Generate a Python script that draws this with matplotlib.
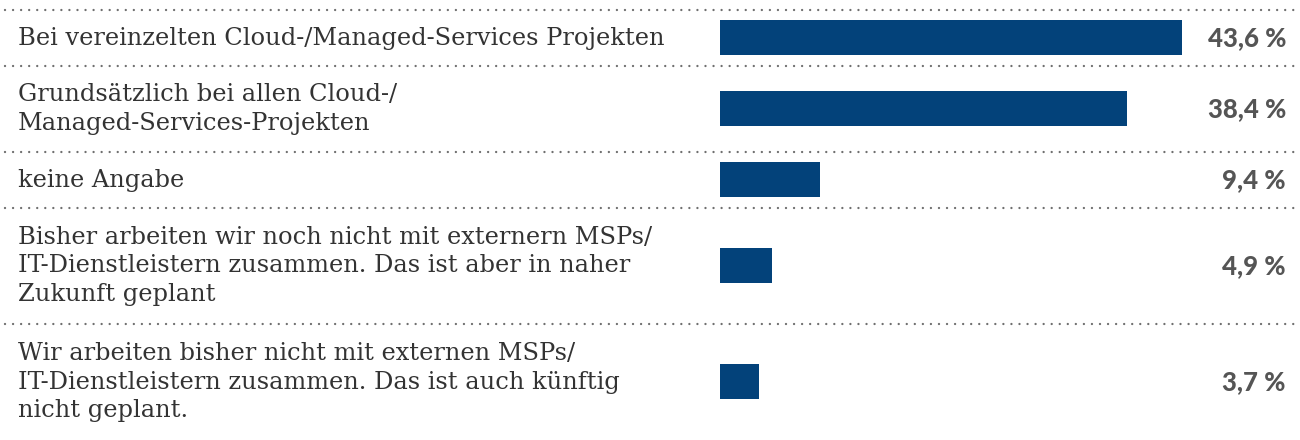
import matplotlib
matplotlib.use("Agg")
import matplotlib.pyplot as plt

# Daten
antworten = [
    "Bei vereinzelten Cloud-/Managed-Services Projekten",
    "Grundsätzlich bei allen Cloud-/\nManaged-Services-Projekten",
    "keine Angabe",
    "Bisher arbeiten wir noch nicht mit externern MSPs/\nIT-Dienstleistern zusammen. Das ist aber in naher\nZukunft geplant",
    "Wir arbeiten bisher nicht mit externen MSPs/\nIT-Dienstleistern zusammen. Das ist auch künftig\nnicht geplant.",
]
anteile = [43.6, 38.4, 9.4, 4.9, 3.7]
beschriftungen = ["43,6 %", "38,4 %", "9,4 %", "4,9 %", "3,7 %"]

balken_farbe = "#03427a"
text_farbe = "#333333"
wert_farbe = "#555555"
linien_farbe = "#6f6f6f"

W, H = 1300, 440
fig = plt.figure(figsize=(W / 100, H / 100), dpi=100)
ax = fig.add_axes([0, 0, 1, 1])

# x: Prozent, 0 liegt bei 720 px, 10.6 px je Prozentpunkt
px_pro_prozent = 10.6
ax.set_xlim(-720 / px_pro_prozent, (W - 720) / px_pro_prozent)
ax.set_ylim(H, 0)
ax.axis("off")

# Zeilenhöhen aus der Anzahl Textzeilen
oben = 10
grenzen = [oben]
mitten = []
for a in antworten:
    n = a.count("\n") + 1
    h = 26 + 30 * n
    mitten.append(grenzen[-1] + h / 2)
    grenzen.append(grenzen[-1] + h)

ytrans = ax.get_yaxis_transform()

for y in grenzen[:-1]:
    ax.plot([0.004, 0.998], [y, y], transform=ytrans, color=linien_farbe,
            linewidth=1.7, linestyle=(0, (0.01, 3.4)), dash_capstyle="round")

ax.barh(mitten, anteile, height=35, color=balken_farbe, left=0)

for a, y, b in zip(antworten, mitten, beschriftungen):
    ax.text(18 / W, y, a, transform=ytrans, ha="left", va="center",
            fontsize=17.4, family="DejaVu Serif", color=text_farbe,
            linespacing=1.28)
    ax.text(1286 / W, y, b, transform=ytrans, ha="right", va="center",
            fontsize=18.5, family="Lato", fontweight="black", color=wert_farbe)

fig.savefig("out.png", dpi=100)
